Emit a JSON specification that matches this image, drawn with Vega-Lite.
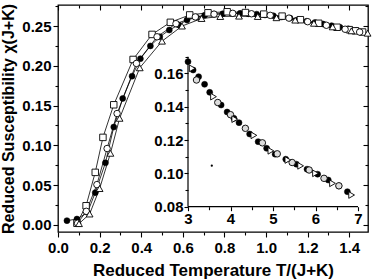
{
"$schema": "https://vega.github.io/schema/vega-lite/v6.json",
"width": 310, "height": 227,
"autosize": {"type": "none"},
"padding": {"left": 58, "top": 5, "right": 6, "bottom": 48},
"background": "white",
"config": {
  "view": {"stroke": "black", "strokeWidth": 1.3},
  "axis": {"grid": false, "domain": false, "tickColor": "black", "tickWidth": 1.1, "labelFont": "Liberation Sans", "labelFontWeight": "bold", "labelFontSize": 15, "labelColor": "black", "labelOverlap": false, "labelFlush": false, "titleFont": "Liberation Sans", "titleFontWeight": "bold", "titleColor": "black"}
},
"datasets": {
  "main": [
    {"s":"fill","x":0.043,"y":0.0053},{"s":"fill","x":0.091,"y":0.0073},{"s":"fill","x":0.142,"y":0.0157},{"s":"fill","x":0.179,"y":0.0405},{"s":"fill","x":0.228,"y":0.078},{"s":"fill","x":0.268,"y":0.123},{"s":"fill","x":0.311,"y":0.159},{"s":"fill","x":0.356,"y":0.187},{"s":"fill","x":0.396,"y":0.209},{"s":"fill","x":0.444,"y":0.225},{"s":"fill","x":0.489,"y":0.2365},{"s":"fill","x":0.535,"y":0.245},{"s":"fill","x":0.58,"y":0.2515},{"s":"fill","x":0.62,"y":0.2575},{"s":"fill","x":0.665,"y":0.261},{"s":"fill","x":0.705,"y":0.2635},{"s":"fill","x":0.75,"y":0.265},{"s":"fill","x":0.792,"y":0.2655},{"s":"fill","x":0.835,"y":0.266},{"s":"fill","x":0.875,"y":0.266},{"s":"fill","x":0.915,"y":0.2655},{"s":"fill","x":0.955,"y":0.265},{"s":"fill","x":0.995,"y":0.264},{"s":"fill","x":1.035,"y":0.263},{"s":"fill","x":1.075,"y":0.2615},{"s":"fill","x":1.115,"y":0.26},{"s":"fill","x":1.155,"y":0.258},{"s":"fill","x":1.195,"y":0.256},{"s":"fill","x":1.235,"y":0.2545},{"s":"fill","x":1.275,"y":0.2525},{"s":"fill","x":1.315,"y":0.2505},{"s":"fill","x":1.355,"y":0.2485},{"s":"fill","x":1.395,"y":0.2465},{"s":"fill","x":1.435,"y":0.2445},
    {"s":"sq","x":0.091,"y":0.002},{"s":"sq","x":0.135,"y":0.024},{"s":"sq","x":0.179,"y":0.066},{"s":"sq","x":0.216,"y":0.11},{"s":"sq","x":0.268,"y":0.151},{"s":"sq","x":0.361,"y":0.208},{"s":"sq","x":0.452,"y":0.2395},{"s":"sq","x":0.54,"y":0.2547},{"s":"sq","x":0.633,"y":0.264},{"s":"sq","x":0.721,"y":0.2667},{"s":"sq","x":0.813,"y":0.268},{"s":"sq","x":0.901,"y":0.267},{"s":"sq","x":0.989,"y":0.265},{"s":"sq","x":1.077,"y":0.2625},{"s":"sq","x":1.165,"y":0.258},{"s":"sq","x":1.253,"y":0.2535},{"s":"sq","x":1.341,"y":0.2485},{"s":"sq","x":1.4,"y":0.2455},{"s":"sq","x":1.43,"y":0.244},{"s":"sq","x":1.464,"y":0.2425},
    {"s":"oc","x":0.094,"y":0.002},{"s":"oc","x":0.136,"y":0.017},{"s":"oc","x":0.187,"y":0.0506},{"s":"oc","x":0.236,"y":0.096},{"s":"oc","x":0.284,"y":0.14},{"s":"oc","x":0.377,"y":0.203},{"s":"oc","x":0.476,"y":0.2365},{"s":"oc","x":0.567,"y":0.253},{"s":"oc","x":0.66,"y":0.2615},{"s":"oc","x":0.75,"y":0.265},{"s":"oc","x":0.84,"y":0.266},{"s":"oc","x":0.93,"y":0.2655},{"s":"oc","x":1.02,"y":0.2635},{"s":"oc","x":1.11,"y":0.26},{"s":"oc","x":1.2,"y":0.2555},{"s":"oc","x":1.29,"y":0.251},{"s":"oc","x":1.38,"y":0.246},{"s":"oc","x":1.45,"y":0.2425},
    {"s":"tri","x":0.101,"y":0.0015},{"s":"tri","x":0.152,"y":0.0136},{"s":"tri","x":0.2,"y":0.0456},{"s":"tri","x":0.252,"y":0.09},{"s":"tri","x":0.296,"y":0.134},{"s":"tri","x":0.393,"y":0.1975},{"s":"tri","x":0.5,"y":0.231},{"s":"tri","x":0.596,"y":0.25},{"s":"tri","x":0.69,"y":0.2595},{"s":"tri","x":0.78,"y":0.262},{"s":"tri","x":0.87,"y":0.2625},{"s":"tri","x":0.96,"y":0.262},{"s":"tri","x":1.05,"y":0.2605},{"s":"tri","x":1.14,"y":0.2575},{"s":"tri","x":1.23,"y":0.2535},{"s":"tri","x":1.32,"y":0.249},{"s":"tri","x":1.41,"y":0.244},{"s":"tri","x":1.488,"y":0.241}
  ],
  "inset": [
    {"s":"fill","x":3.0,"y":0.167},{"s":"fill","x":3.12,"y":0.162},{"s":"fill","x":3.25,"y":0.158},{"s":"fill","x":3.39,"y":0.1534},{"s":"fill","x":3.51,"y":0.1486},{"s":"fill","x":3.78,"y":0.141},{"s":"fill","x":3.92,"y":0.1368},{"s":"fill","x":4.08,"y":0.133},{"s":"fill","x":4.2,"y":0.1304},{"s":"fill","x":4.45,"y":0.1236},{"s":"fill","x":4.65,"y":0.119},{"s":"fill","x":4.85,"y":0.115},{"s":"fill","x":5.05,"y":0.1115},{"s":"fill","x":5.3,"y":0.1085},{"s":"fill","x":5.55,"y":0.1055},{"s":"fill","x":5.8,"y":0.1025},{"s":"fill","x":6.05,"y":0.0995},{"s":"fill","x":6.3,"y":0.096},{"s":"fill","x":6.55,"y":0.0925},{"s":"fill","x":6.75,"y":0.089},
    {"s":"oc","x":3.2,"y":0.156},{"s":"oc","x":3.7,"y":0.1425},{"s":"oc","x":4.0,"y":0.1352},{"s":"oc","x":4.35,"y":0.127},{"s":"oc","x":4.75,"y":0.1183},{"s":"oc","x":5.1,"y":0.1117},{"s":"oc","x":5.45,"y":0.1065},{"s":"oc","x":5.85,"y":0.102},{"s":"oc","x":6.2,"y":0.097},{"s":"oc","x":6.55,"y":0.0925},
    {"s":"tri","x":3.1,"y":0.163},{"s":"tri","x":3.6,"y":0.146},{"s":"tri","x":4.1,"y":0.1325},{"s":"tri","x":4.55,"y":0.1228},{"s":"tri","x":4.95,"y":0.1135},{"s":"tri","x":5.35,"y":0.108},{"s":"tri","x":5.65,"y":0.1045},{"s":"tri","x":6.0,"y":0.1},{"s":"tri","x":6.4,"y":0.094},{"s":"tri","x":6.85,"y":0.087},
    {"s":"dot","x":3.56,"y":0.1046}
  ],
  "frame": [
    {"x":3,"x2":7,"y":0.08,"y2":0.08},
    {"x":3,"x2":3,"y":0.08,"y2":0.17}
  ]
},
"layer": [
  {
    "data": {"name": "main"},
    "layer": [
      {"mark": {"type": "line", "color": "black", "strokeWidth": 0.8},
       "encoding": {
         "x": {"field": "x", "type": "quantitative", "scale": {"domain": [0, 1.49], "nice": false, "zero": false},
               "axis": {"orient": "bottom", "values": [0,0.2,0.4,0.6,0.8,1.0,1.2,1.4], "format": ".1f", "tickSize": 5, "labelPadding": 3, "title": "Reduced Temperature T/(J+K)", "titleFontSize": 17, "titlePadding": 7}},
         "y": {"field": "y", "type": "quantitative", "scale": {"domain": [-0.009, 0.2765], "nice": false, "zero": false},
               "axis": {"orient": "left", "values": [0,0.05,0.1,0.15,0.2,0.25], "format": ".2f", "tickSize": 5, "labelPadding": 2, "title": "Reduced Susceptibility χ(J+K)", "titleFontSize": 16, "titlePadding": 5}},
         "detail": {"field": "s"}}},
      {"transform": [{"filter": "datum.s == 'fill'"}],
       "mark": {"type": "point", "shape": "circle", "filled": true, "fill": "black", "stroke": "black", "strokeWidth": 0.5, "size": 36, "opacity": 1},
       "encoding": {
         "x": {"field": "x", "type": "quantitative", "axis": {"orient": "bottom", "values": [0.1,0.3,0.5,0.7,0.9,1.1,1.3], "labels": false, "tickSize": 3, "title": null}},
         "y": {"field": "y", "type": "quantitative", "axis": {"orient": "left", "values": [0.025,0.075,0.125,0.175,0.225,0.275], "labels": false, "tickSize": 3, "title": null}}}},
      {"transform": [{"filter": "datum.s == 'sq'"}],
       "mark": {"type": "point", "shape": "square", "filled": true, "fill": "white", "stroke": "black", "strokeWidth": 0.9, "size": 42, "opacity": 1},
       "encoding": {
         "x": {"field": "x", "type": "quantitative", "axis": {"orient": "top", "values": [0,0.2,0.4,0.6,0.8,1.0,1.2,1.4], "labels": false, "tickSize": -5, "title": null}},
         "y": {"field": "y", "type": "quantitative", "axis": {"orient": "right", "values": [0,0.05,0.1,0.15,0.2,0.25], "labels": false, "tickSize": -5, "title": null}}}},
      {"transform": [{"filter": "datum.s == 'oc'"}],
       "mark": {"type": "point", "shape": "circle", "filled": true, "fill": "white", "stroke": "black", "strokeWidth": 0.9, "size": 42, "opacity": 1},
       "encoding": {
         "x": {"field": "x", "type": "quantitative", "axis": {"orient": "top", "values": [0.1,0.3,0.5,0.7,0.9,1.1,1.3], "labels": false, "tickSize": -3, "title": null}},
         "y": {"field": "y", "type": "quantitative", "axis": {"orient": "right", "values": [0.025,0.075,0.125,0.175,0.225,0.275], "labels": false, "tickSize": -3, "title": null}}}},
      {"transform": [{"filter": "datum.s == 'tri'"}],
       "mark": {"type": "point", "shape": "triangle-up", "filled": true, "fill": "white", "stroke": "black", "strokeWidth": 0.9, "size": 46, "opacity": 1},
       "encoding": {
         "x": {"field": "x", "type": "quantitative", "axis": null},
         "y": {"field": "y", "type": "quantitative", "axis": null}}}
    ],
    "resolve": {"axis": {"x": "independent", "y": "independent"}}
  },
  {
    "layer": [
      {"data": {"name": "frame"},
       "mark": {"type": "rule", "color": "black", "strokeWidth": 1.2},
       "encoding": {
         "x": {"field": "x", "type": "quantitative", "scale": {"domain": [-0.0588, 7.235], "nice": false, "zero": false},
               "axis": {"orient": "bottom", "offset": -25.3, "values": [3,4,5,6,7], "tickSize": 4, "labelPadding": 1, "title": null}},
         "x2": {"field": "x2"},
         "y": {"field": "y", "type": "quantitative", "scale": {"domain": [0.0648, 0.201], "nice": false, "zero": false},
               "axis": {"orient": "left", "offset": -130, "values": [0.08,0.1,0.12,0.14,0.16], "format": ".2f", "tickSize": 4, "labelPadding": 1, "title": null}},
         "y2": {"field": "y2"}}},
      {"data": {"name": "inset"},
       "transform": [{"filter": "datum.s == 'fill'"}],
       "mark": {"type": "point", "shape": "circle", "filled": true, "fill": "black", "stroke": "black", "strokeWidth": 0.5, "size": 36, "opacity": 1},
       "encoding": {
         "x": {"field": "x", "type": "quantitative", "axis": {"orient": "bottom", "offset": -25.3, "values": [3.5,4.5,5.5,6.5], "labels": false, "tickSize": 3, "title": null}},
         "y": {"field": "y", "type": "quantitative", "axis": {"orient": "left", "offset": -130, "values": [0.09,0.11,0.13,0.15,0.17], "labels": false, "tickSize": 3, "title": null}}}},
      {"data": {"name": "inset"},
       "transform": [{"filter": "datum.s == 'oc'"}],
       "mark": {"type": "point", "shape": "circle", "filled": true, "fill": "#dddddd", "stroke": "black", "strokeWidth": 0.9, "size": 42, "opacity": 1},
       "encoding": {
         "x": {"field": "x", "type": "quantitative", "axis": null},
         "y": {"field": "y", "type": "quantitative", "axis": null}}},
      {"data": {"name": "inset"},
       "transform": [{"filter": "datum.s == 'tri'"}],
       "mark": {"type": "point", "shape": "triangle-right", "filled": true, "fill": "white", "stroke": "black", "strokeWidth": 0.9, "size": 44, "opacity": 1},
       "encoding": {
         "x": {"field": "x", "type": "quantitative", "axis": null},
         "y": {"field": "y", "type": "quantitative", "axis": null}}},
      {"data": {"name": "inset"},
       "transform": [{"filter": "datum.s == 'dot'"}],
       "mark": {"type": "point", "shape": "circle", "filled": true, "fill": "black", "size": 5, "opacity": 1},
       "encoding": {
         "x": {"field": "x", "type": "quantitative", "axis": null},
         "y": {"field": "y", "type": "quantitative", "axis": null}}}
    ],
    "resolve": {"axis": {"x": "independent", "y": "independent"}}
  }
],
"resolve": {"scale": {"x": "independent", "y": "independent"}}
}
